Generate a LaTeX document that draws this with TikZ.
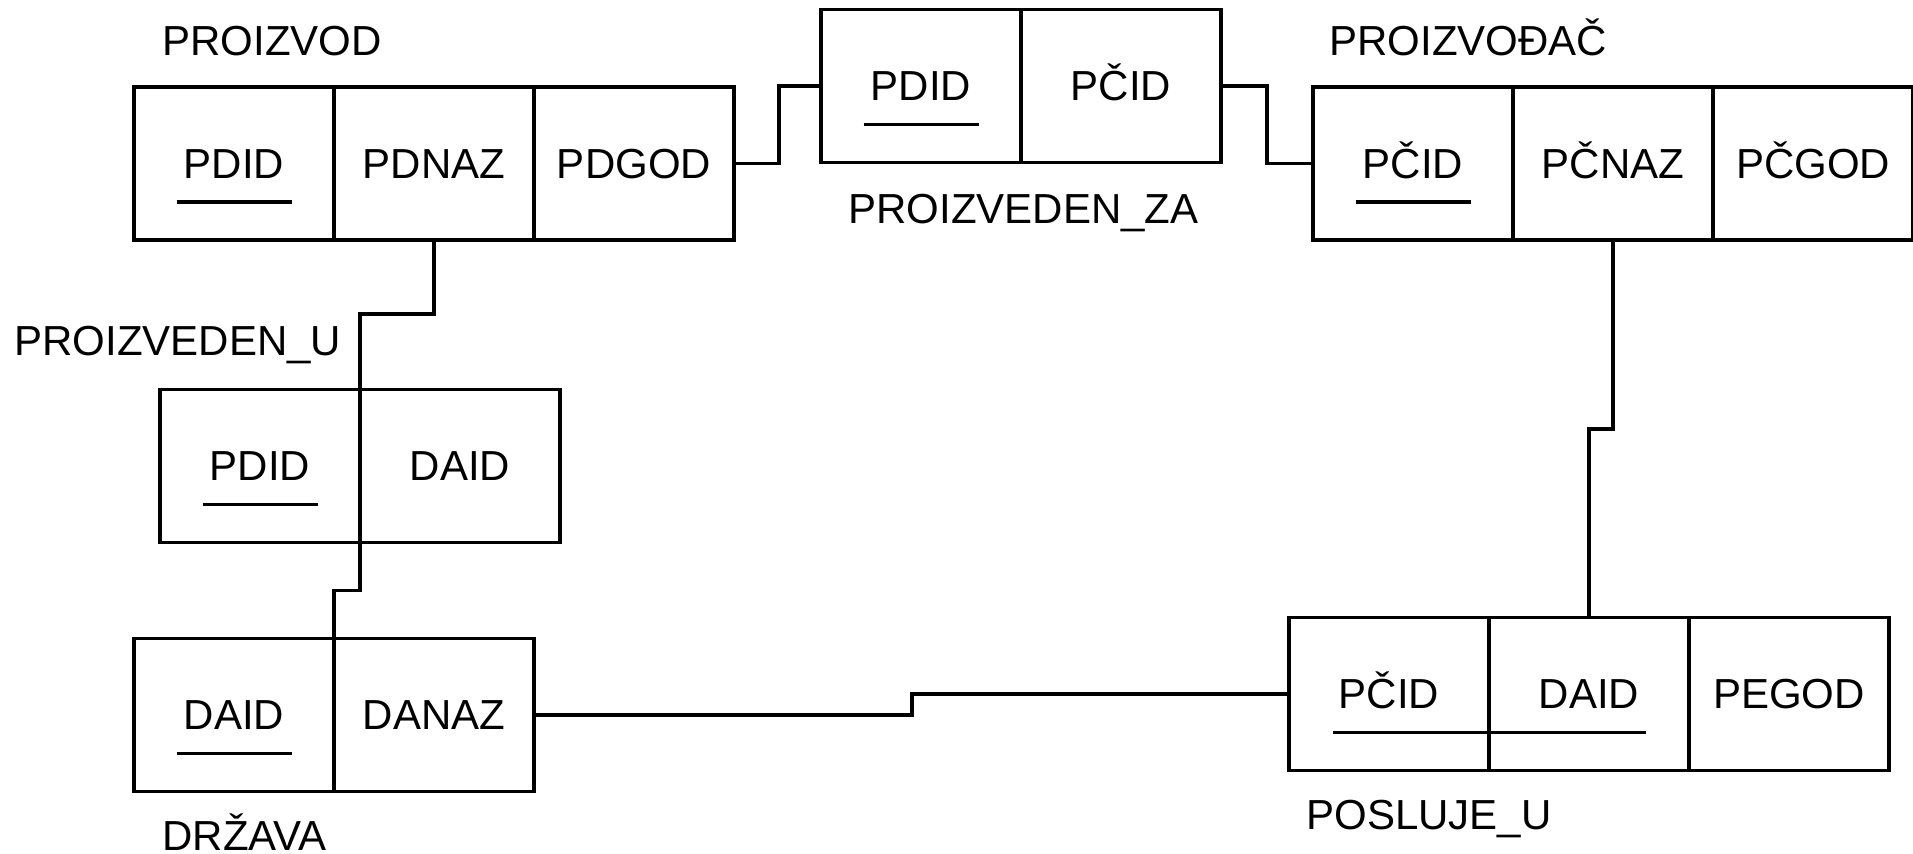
\documentclass[tikz,border=0pt]{standalone}
\usepackage{fontspec}
\setmainfont{Liberation Sans}
\usetikzlibrary{positioning,calc}

\begin{document}
\begin{tikzpicture}[
	x=0.5pt, y=-0.5pt,
	node distance=0pt,
	cell/.style={
		rectangle,
		draw=black,
		line width=1.75pt,
		minimum width=100pt,
		minimum height=76.5pt,
		inner sep=0pt,
		outer sep=0pt,
		text height=15pt,
		text depth=0pt,
		align=center,
		font=\fontsize{21}{25}\selectfont
	},
	tname/.style={anchor=base west, inner sep=0pt, font=\fontsize{21}{25}\selectfont},
	keyline/.style={line width=1.75pt},
	conn/.style={line width=1.75pt}
]
\useasboundingbox (0,0) rectangle (1913,854);

% PROIZVOD
\node[tname] (lproizvod) at (162,56) {PROIZVOD};
\node[cell] (pdid) at (234,163.5) {PDID};
\node[cell, right=of pdid] (pdnaz) {PDNAZ};
\node[cell, right=of pdnaz] (pdgod) {PDGOD};
\draw[keyline] ($(pdid.center)+(-57.5,38.5)$) -- ++(115,0);

% PROIZVEDEN_ZA
\node[cell] (zapdid) at (921,86) {PDID};
\node[cell, right=of zapdid] (zapcid) {PČID};
\draw[keyline] ($(zapdid.center)+(-57.5,38.5)$) -- ++(115,0);
\node[tname] (lproizvedenza) at (848,224) {PROIZVEDEN\_ZA};

% PROIZVOĐAČ
\node[tname] (lproizvodjac) at (1329,56) {PROIZVOĐAČ};
\node[cell] (pcid) at (1413,163.5) {PČID};
\node[cell, right=of pcid] (pcnaz) {PČNAZ};
\node[cell, right=of pcnaz] (pcgod) {PČGOD};
\draw[keyline] ($(pcid.center)+(-57.5,38.5)$) -- ++(115,0);

% PROIZVEDEN_U
\node[tname] (lproizvedenu) at (14,356) {PROIZVEDEN\_U};
\node[cell] (updid) at (260,466) {PDID};
\node[cell, right=of updid] (udaid) {DAID};
\draw[keyline] ($(updid.center)+(-57.5,38.5)$) -- ++(115,0);

% DRŽAVA
\node[cell] (daid) at (234,715) {DAID};
\node[cell, right=of daid] (danaz) {DANAZ};
\draw[keyline] ($(daid.center)+(-57.5,38.5)$) -- ++(115,0);
\node[tname] (ldrzava) at (162,851) {DRŽAVA};

% POSLUJE_U
\node[cell] (pspcid) at (1389,694) {PČID};
\node[cell, right=of pspcid] (psdaid) {DAID};
\node[cell, right=of psdaid] (pspegod) {PEGOD};
\draw[keyline] ($(pspcid.center)+(-56,38.5)$) -- ($(psdaid.center)+(57,38.5)$);
\node[tname] (lposlujeu) at (1306,830) {POSLUJE\_U};

% Veze
\draw[conn] (pdgod.east) -- ++(45,0) |- (zapdid.west);
\draw[conn] (zapcid.east) -- ++(46,0) |- (pcid.west);
\draw[conn] (pdnaz.south) -- ++(0,74) -| (updid.north east);
\draw[conn] (updid.south east) -- ++(0,48) -| (daid.north east);
\draw[conn] (danaz.east) -- ++(378,0) |- (pspcid.west);
\draw[conn] (pcnaz.south) -- ++(0,189) -| (psdaid.north);

\end{tikzpicture}
\end{document}
